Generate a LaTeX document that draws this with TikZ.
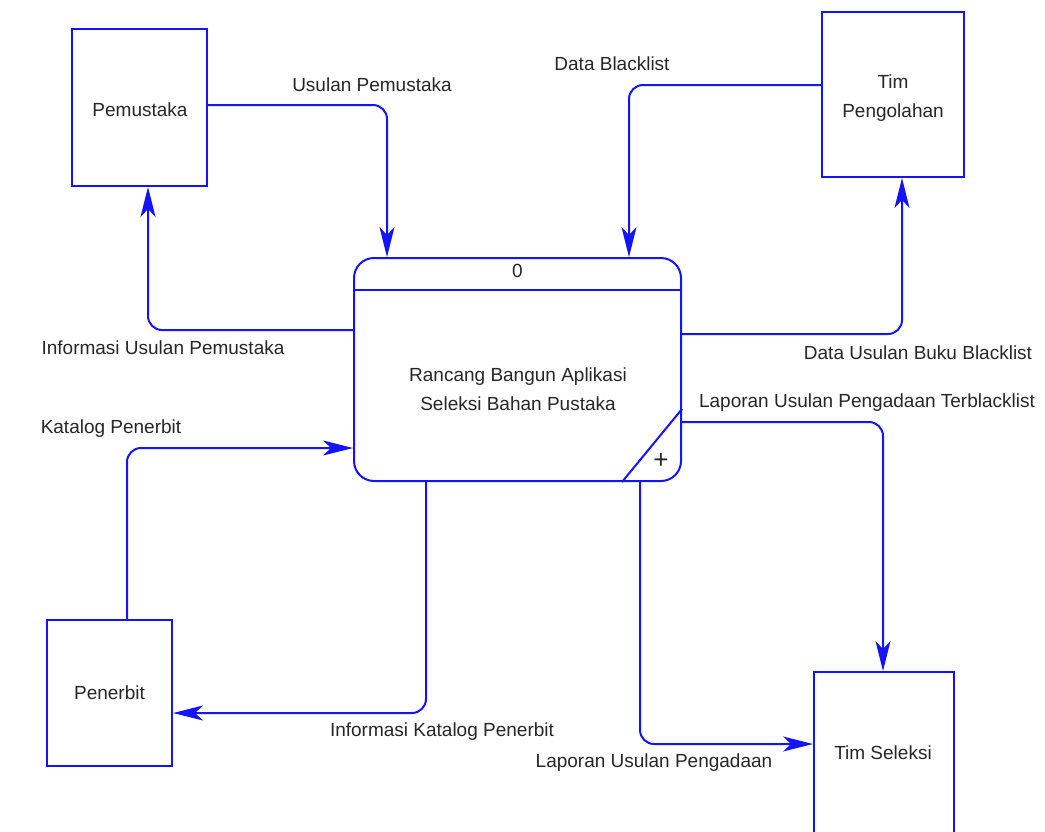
\documentclass[tikz,border=0pt]{standalone}
\usepackage{fontspec}
\setmainfont{Liberation Sans}
\usetikzlibrary{arrows.meta}
\definecolor{dfdblue}{RGB}{20,20,250}
\tikzset{
  entity/.style={draw=dfdblue, line width=2pt, inner sep=0pt, align=center, text=black!85},
  flow/.style={draw=dfdblue, line width=2pt, rounded corners=14pt,
    -{Stealth[length=30pt,width=15pt,inset=8pt]}},
  flowlabel/.style={text=black!85, inner sep=0pt},
}
\begin{document}
\begin{tikzpicture}[x=1pt, y=-1pt, font=\fontsize{19}{29}\selectfont]
      \useasboundingbox (0,0) rectangle (1045,831);
      \node[entity, minimum width=135pt, minimum height=157pt] (pemustaka) at (139.5,107.5) {};
      \node[entity, minimum width=142pt, minimum height=165pt] (timolah) at (893,94.5) {};
      \node[entity, minimum width=125pt, minimum height=146pt] (penerbit) at (109.5,693) {Penerbit};
      \node[entity, minimum width=140pt, minimum height=170pt] (timseleksi) at (884,757) {};
      \node[flowlabel] (pemustakatext) at (140,110) {Pemustaka};
      \node[flowlabel, align=center] (timolahtext) at (893,98) {Tim\\Pengolahan};
      \node[flowlabel] (timseleksitext) at (883,753) {Tim Seleksi};
      \node[entity, rounded corners=20pt, minimum width=327pt, minimum height=223pt] (proc) at (517.5,369.5) {};
      \draw[dfdblue, line width=2pt] ([yshift=-33pt]proc.north west) -- ([yshift=-33pt]proc.north east);
      \draw[dfdblue, line width=2pt] ([xshift=-60pt]proc.south east) -- ([yshift=73pt]proc.south east);
      \node[flowlabel] (procnum) at ([yshift=-14pt]proc.north) {0};
      \node[flowlabel, align=center] (proctext) at (518,389) {Rancang Bangun Aplikasi\\Seleksi Bahan Pustaka};
      \node[flowlabel, font=\fontsize{26}{26}\selectfont] (procplus) at ([xshift=-21pt,yshift=21pt]proc.south east) {+};
      \draw[flow] ([yshift=2.5pt]pemustaka.east) -| ([xshift=34pt]proc.north west);
      \draw[flow] ([yshift=-73pt]proc.north west) -| ([xshift=8.5pt]pemustaka.south);
      \draw[flow] ([yshift=9.5pt]timolah.west) -| ([xshift=-53pt]proc.north east);
      \draw[flow] ([yshift=-77pt]proc.north east) -| ([xshift=9pt]timolah.south);
      \draw[flow] ([yshift=-165pt]proc.north east) -| ([xshift=-1pt]timseleksi.north);
      \draw[flow] ([xshift=17.5pt]penerbit.north) |- ([yshift=-191pt]proc.north west);
      \draw[flow] ([xshift=73pt]proc.south west) |- ([yshift=-20pt]penerbit.east);
      \draw[flow] ([xshift=-42pt]proc.south east) |- ([yshift=13pt]timseleksi.west);
      \node[flowlabel] (lblusulan) at (372,85) {Usulan Pemustaka};
      \node[flowlabel] (lblinfousulan) at (163,348) {Informasi Usulan Pemustaka};
      \node[flowlabel] (lblblacklist) at (612,64) {Data Blacklist};
      \node[flowlabel] (lblbuku) at (918,353) {Data Usulan Buku Blacklist};
      \node[flowlabel] (lblterblack) at (867,403) {Laporan Usulan Pengadaan Terblacklist};
      \node[flowlabel] (lblkatalog) at (111,429) {Katalog Penerbit};
      \node[flowlabel] (lblinfokatalog) at (442,732) {Informasi Katalog Penerbit};
      \node[flowlabel] (lbllaporan) at (654,763) {Laporan Usulan Pengadaan};
      \end{tikzpicture}
\end{document}
